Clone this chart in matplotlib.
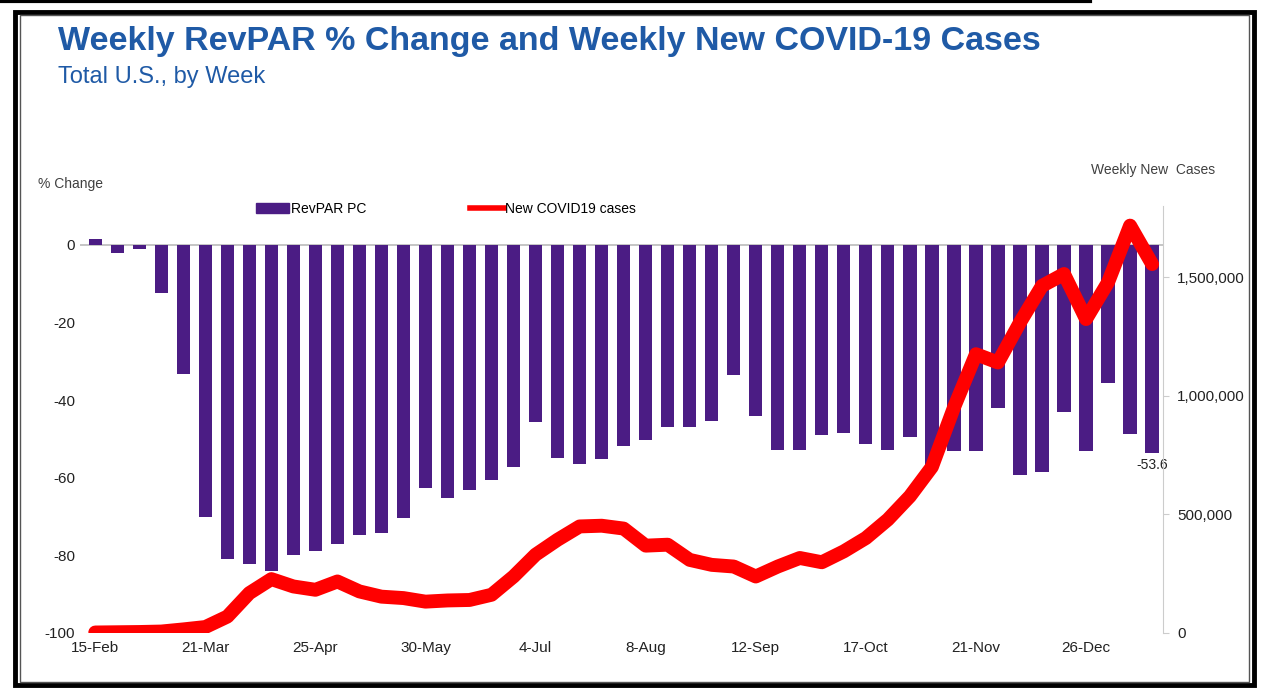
import pandas as pd
import matplotlib.pyplot as plt
from matplotlib.patches import Rectangle, Patch
from matplotlib.lines import Line2D
from matplotlib.ticker import FuncFormatter

plt.rcParams['axes.unicode_minus'] = False

# Semanas (sábado) de 15-Feb-2020 a 16-Jan-2021
weeks = pd.date_range('2020-02-15', periods=49, freq='7D')
week_labels = [f"{d.day}-{d.strftime('%b')}" for d in weeks]

revpar_pc = [1.5, -2.2, -1.0, -12.5, -33.2, -70.1, -80.9, -82.3, -84.1, -79.8,
             -79.0, -77.2, -74.8, -74.2, -70.3, -62.6, -65.3, -63.2, -60.7, -57.2,
             -45.6, -55.0, -56.5, -55.2, -51.8, -50.3, -46.9, -46.9, -45.3, -33.5,
             -44.0, -52.8, -52.8, -49.1, -48.4, -51.4, -53.0, -49.5, -57.0, -53.1,
             -53.1, -42.0, -59.4, -58.6, -43.1, -53.1, -35.7, -48.7, -53.6]

new_cases = [2000, 3000, 4000, 6000, 15000, 25000, 69000, 168000, 227000, 196000,
             182000, 217000, 175000, 153000, 147000, 132000, 137000, 139000, 161000, 238000,
             330000, 393000, 449000, 452000, 440000, 368000, 372000, 308000, 287000, 280000,
             238000, 280000, 316000, 298000, 344000, 400000, 478000, 576000, 700000, 950000,
             1175000, 1140000, 1309000, 1463000, 1513000, 1323000, 1478000, 1717000, 1555000]

purple = '#4B1C84'
blue = '#1F5AA6'
gray_txt = '#404040'
font = 'Liberation Sans'

fig = plt.figure(figsize=(12.67, 6.91), dpi=100)
ax = fig.add_axes([0.063, 0.084, 0.855, 0.618])
x = list(range(len(weeks)))

ax.bar(x, revpar_pc, width=0.6, color=purple, zorder=2)
ax.axhline(0, color='#BBBBBB', lw=1.2, zorder=1)
ax.set_ylim(-100, 10)
ax.set_xlim(-0.7, 48.5)
ax.set_yticks(range(-100, 1, 20))
ax.set_xticks(x[::5])
ax.set_xticklabels(week_labels[::5])
ax.tick_params(axis='both', length=0, labelsize=11, labelcolor='#222222',
               labelfontfamily=font)
ax.tick_params(axis='x', pad=6)
for s in ax.spines.values():
    s.set_visible(False)
ax.annotate(f"{revpar_pc[-1]}", (x[-1], revpar_pc[-1]), xytext=(0, -4),
            textcoords='offset points', ha='center', va='top', fontsize=10,
            color='#222222', family=font)

ax2 = ax.twinx()
ax2.plot(x, new_cases, color='#FF0000', lw=10, solid_joinstyle='round',
         solid_capstyle='round', zorder=3)
ax2.set_ylim(0, 1800000)
ax2.set_yticks([0, 500000, 1000000, 1500000])
ax2.yaxis.set_major_formatter(FuncFormatter(lambda v, p: f"{int(v):,}"))
ax2.tick_params(axis='y', length=4, color='#CCCCCC', labelsize=11,
                labelcolor='#222222', labelfontfamily=font, pad=6)
for k, s in ax2.spines.items():
    s.set_visible(k == 'right')
ax2.spines['right'].set_color('#CCCCCC')

handles = [Patch(color=purple, label='RevPAR PC'),
           Line2D([0], [0], color='#FF0000', lw=4, label='New COVID19 cases')]
fig.legend(handles=handles, ncol=2, loc='center', bbox_to_anchor=(0.352, 0.698),
           frameon=False, columnspacing=7.5, handlelength=2.4, handletextpad=0.1,
           prop={'family': font, 'size': 10})

fig.text(0.030, 0.728, '% Change', fontsize=10, color=gray_txt, family=font)
fig.text(0.861, 0.748, 'Weekly New  Cases', fontsize=10, color=gray_txt, family=font)

fig.text(0.046, 0.94, 'Weekly RevPAR % Change and Weekly New COVID-19 Cases',
         fontsize=24.5, fontweight='bold', color=blue, family=font, va='center')
fig.text(0.046, 0.888, 'Total U.S., by Week', fontsize=17, color=blue,
         family=font, va='center')

# Moldura preta
fig.add_artist(Rectangle((0.012, 0.008), 0.978, 0.975, transform=fig.transFigure,
                         fill=False, edgecolor='black', lw=3.5))
fig.add_artist(Rectangle((0.016, 0.013), 0.970, 0.965, transform=fig.transFigure,
                         fill=False, edgecolor='#555555', lw=1))
fig.add_artist(Line2D([0.0, 0.86], [0.998, 0.998], transform=fig.transFigure,
                      color='black', lw=3))

fig.savefig('out.png', dpi=100)
plt.close()
